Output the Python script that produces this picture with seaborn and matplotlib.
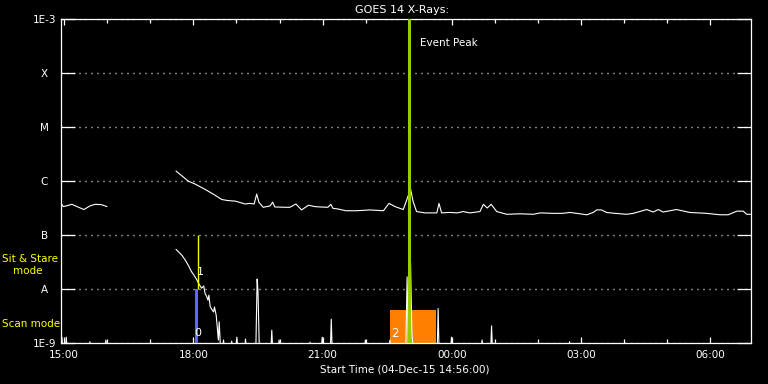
import numpy as np
import pandas as pd
import matplotlib
matplotlib.use("Agg")
import matplotlib.pyplot as plt
import seaborn as sns

# ---------------- data (time in hours since 04-Dec 00:00, flux in W/m^2) -------------
long1_t = [14.93, 14.98, 15.05, 15.18, 15.32, 15.46, 15.60, 15.72, 15.86, 15.996]
long1_f = [3.9e-7, 3.4e-7, 3.5e-7, 3.75e-7, 3.35e-7, 3.0e-7, 3.5e-7, 3.75e-7, 3.7e-7, 3.4e-7]

long2_t = [17.597, 17.74, 17.88, 18.04, 18.27, 18.46, 18.66, 18.80, 18.97, 19.20, 19.31, 19.41,
           19.47, 19.52, 19.62, 19.78, 19.84, 19.89, 20.13, 20.24, 20.38, 20.51, 20.67, 20.82,
           20.94, 21.12, 21.19, 21.24, 21.33, 21.54, 21.79, 22.10, 22.41, 22.54, 22.68, 22.87,
           22.95, 23.04, 23.10, 23.18, 23.37, 23.65, 23.70, 23.76, 23.95, 24.12, 24.26, 24.42,
           24.65, 24.73, 24.82, 24.91, 25.04, 25.27, 25.58, 25.89, 26.05, 26.35, 26.56, 26.74,
           26.97, 27.13, 27.28, 27.36, 27.47, 27.59, 27.78, 28.05, 28.21, 28.52, 28.67, 28.79,
           28.90, 29.21, 29.52, 29.91, 30.22, 30.41, 30.61, 30.76, 30.84, 30.93]
long2_f = [1.55e-6, 1.25e-6, 1.01e-6, 8.9e-7, 7.1e-7, 5.8e-7, 4.6e-7, 4.4e-7, 4.3e-7, 3.8e-7, 3.9e-7, 3.8e-7,
           5.8e-7, 4.1e-7, 3.3e-7, 3.5e-7, 4.1e-7, 3.35e-7, 3.3e-7, 3.3e-7, 3.8e-7, 2.95e-7, 3.6e-7, 3.4e-7,
           3.35e-7, 3.3e-7, 3.75e-7, 3.15e-7, 3.1e-7, 2.85e-7, 2.85e-7, 2.95e-7, 2.85e-7, 3.9e-7, 3.4e-7, 3.0e-7,
           4.5e-7, 7.2e-7, 4.2e-7, 2.75e-7, 2.6e-7, 2.6e-7, 3.9e-7, 2.6e-7, 2.65e-7, 2.6e-7, 2.75e-7, 2.6e-7,
           2.75e-7, 3.75e-7, 3.2e-7, 3.75e-7, 2.75e-7, 2.45e-7, 2.5e-7, 2.45e-7, 2.6e-7, 2.55e-7, 2.55e-7, 2.65e-7,
           2.5e-7, 2.4e-7, 2.65e-7, 2.95e-7, 2.95e-7, 2.65e-7, 2.55e-7, 2.45e-7, 2.55e-7, 3.0e-7, 2.7e-7, 3.0e-7,
           2.7e-7, 3.0e-7, 2.65e-7, 2.55e-7, 2.4e-7, 2.4e-7, 2.8e-7, 2.8e-7, 2.45e-7, 2.45e-7]

short1_t = [14.93, 14.95, 14.97, 15.03, 15.05, 15.07, 15.58, 15.60, 15.62, 15.95, 15.97, 15.996]
short1_f = [8e-10, 1.3e-9, 8e-10, 8e-10, 1.3e-9, 8e-10, 8e-10, 1.07e-9, 8e-10, 8e-10, 1.15e-9, 8e-10]

short2_t = [17.597, 17.73, 17.81, 17.88, 17.96, 18.01, 18.08, 18.13, 18.19, 18.24, 18.27, 18.31,
            18.34, 18.36, 18.39, 18.43, 18.47, 18.49, 18.53, 18.55, 18.58, 18.60, 18.63,
            18.68, 18.70, 18.72, 18.87, 18.89, 18.91, 18.99, 19.01, 19.03, 19.19, 19.21, 19.23,
            19.45, 19.48, 19.50, 19.53, 19.80, 19.82, 19.84, 19.97, 19.99, 20.01, 20.69, 20.71,
            20.73, 20.97, 20.99, 21.01, 21.18, 21.20, 21.22, 21.97, 21.99, 22.01, 22.54, 22.56,
            22.58, 22.93, 22.96, 22.99, 23.00, 23.04, 23.07, 23.10, 23.66, 23.68, 23.70, 23.97,
            23.99, 24.01, 24.68, 24.70, 24.72, 24.90, 24.92, 24.94, 26.71, 26.73, 26.75, 30.93]
short2_f = [5.5e-8, 4.3e-8, 3.5e-8, 2.8e-8, 2.1e-8, 1.85e-8, 1.5e-8, 1.25e-8, 1.05e-8, 1.15e-8, 8.5e-9, 7.3e-9,
            6.3e-9, 7.8e-9, 4.8e-9, 4.2e-9, 3.8e-9, 4.7e-9, 3.3e-9, 2.2e-9, 1.15e-9, 2.5e-9, 8e-10,
            8e-10, 1.15e-9, 8e-10, 8e-10, 1.1e-9, 8e-10, 8e-10, 1.3e-9, 8e-10, 8e-10, 1.2e-9, 8e-10,
            8e-10, 1.55e-8, 9e-9, 8e-10, 8e-10, 1.75e-9, 8e-10, 8e-10, 1.15e-9, 8e-10, 8e-10, 1.05e-9,
            8e-10, 8e-10, 1.3e-9, 8e-10, 8e-10, 2.8e-9, 8e-10, 8e-10, 1.15e-9, 8e-10, 8e-10, 1.15e-9,
            8e-10, 8e-10, 1.7e-8, 8e-10, 8e-10, 3.1e-8, 1.6e-9, 8e-10, 8e-10, 4.4e-9, 8e-10, 8e-10,
            1.3e-9, 8e-10, 8e-10, 1.15e-9, 8e-10, 8e-10, 2.1e-9, 8e-10, 8e-10, 1.07e-9, 8e-10, 8e-10]

# observation windows: start, end, top flux
sit_start, sit_end, sit_top = 18.03, 18.10, 1e-8
sit_marker_t, sit_marker_lo, sit_marker_hi = 18.10, 1e-8, 1e-7
scan_start, scan_end, scan_top = 22.56, 23.62, 4.1e-9
event_peak_t = 23.0

xtick_pos = [15, 18, 21, 24, 27, 30]
xtick_labels = ["15:00", "18:00", "21:00", "00:00", "03:00", "06:00"]
ytick_pos = [1e-9, 1e-8, 1e-7, 1e-6, 1e-5, 1e-4, 1e-3]
ytick_labels = ["1E-9", "A", "B", "C", "M", "X", "1E-3"]

# ---------------- plotting -------------
sns.set_style("dark")
plt.rcParams["font.family"] = ["DejaVu Sans"]

fig = plt.figure(figsize=(7.68, 3.84), dpi=100, facecolor="black")
ax = fig.add_axes([61.2 / 768, 1 - 343.3 / 384, (750.7 - 61.2) / 768, (343.3 - 19.3) / 384])
ax.set_facecolor("black")

for t, f in [(long1_t, long1_f), (long2_t, long2_f), (short1_t, short1_f), (short2_t, short2_f)]:
    df = pd.DataFrame({"t": t, "f": f})
    sns.lineplot(data=df, x="t", y="f", ax=ax, color="white", lw=0.8,
                 estimator=None, sort=False, legend=False)

ax.set_yscale("log")
ax.set_xlim(14.9333, 30.933)
ax.set_ylim(1e-9, 1e-3)

# observation windows
ax.bar([sit_start], [sit_top - 1e-9], width=sit_end - sit_start, bottom=1e-9,
       align="edge", color="#6464ff", zorder=3, linewidth=0)
ax.vlines([sit_marker_t], sit_marker_lo, sit_marker_hi, color="#ffff00", lw=1.0, zorder=3)
ax.bar([scan_start], [scan_top - 1e-9], width=scan_end - scan_start, bottom=1e-9,
       align="edge", color="#ff8000", zorder=1, linewidth=0)
ax.axvline(event_peak_t, color="#99cc00", lw=2.2, zorder=4)

ax.text(18.17, 2.1e-8, "1", color="white", fontsize=8, ha="center", va="center")
ax.text(18.11, 1.55e-9, "0", color="white", fontsize=8, ha="center", va="center")
ax.text(22.58, 1.55e-9, "2", color="white", fontsize=8.5, ha="left", va="center", zorder=5)
ax.text(23.25, 10 ** (-3 - (43 - 19.3) / 54), "Event Peak", color="white", fontsize=7.5,
        ha="left", va="center")

# axes styling
for s in ax.spines.values():
    s.set_color("white")
    s.set_linewidth(0.9)
    s.set_visible(True)

ax.set_xticks(xtick_pos)
ax.set_xticklabels(xtick_labels)
ax.set_xticks(np.arange(15, 31, 1), minor=True)
ax.set_yticks(ytick_pos)
ax.set_yticklabels(ytick_labels)
ax.yaxis.set_minor_locator(matplotlib.ticker.NullLocator())
ax.tick_params(axis="x", which="major", direction="in", length=4.5, width=0.9, color="white",
               labelcolor="white", labelsize=7.5, top=True, bottom=True, pad=5)
ax.tick_params(axis="x", which="minor", direction="in", length=3, width=0.9, color="white",
               top=True, bottom=True)
ax.tick_params(axis="y", which="major", direction="in", length=10, width=0.9, color="white",
               labelcolor="white", labelsize=7.5, left=True, right=True, pad=12)
for lab in ax.get_yticklabels():
    lab.set_horizontalalignment("center")

ax.grid(False)
ax.grid(axis="y", which="major", color="white", linestyle=(0, (0.72, 3.6)), lw=1.0)
ax.set_xlabel("")
ax.set_ylabel("")

fig.text(401.7 / 768, 1 - 10 / 384, "GOES 14 X-Rays:", color="white", fontsize=8,
         ha="center", va="center")
fig.text(405 / 768, 1 - 369 / 384, "Start Time (04-Dec-15 14:56:00)", color="white",
         fontsize=7.5, ha="center", va="center")
fig.text(2 / 768, 1 - 259 / 384, "Sit & Stare", color="#ffff00", fontsize=7.5, ha="left", va="center")
fig.text(13 / 768, 1 - 271 / 384, "mode", color="#ffff00", fontsize=7.5, ha="left", va="center")
fig.text(2 / 768, 1 - 324 / 384, "Scan mode", color="#ffff00", fontsize=7.5, ha="left", va="center")

fig.savefig("out.png", dpi=100, facecolor="black")
